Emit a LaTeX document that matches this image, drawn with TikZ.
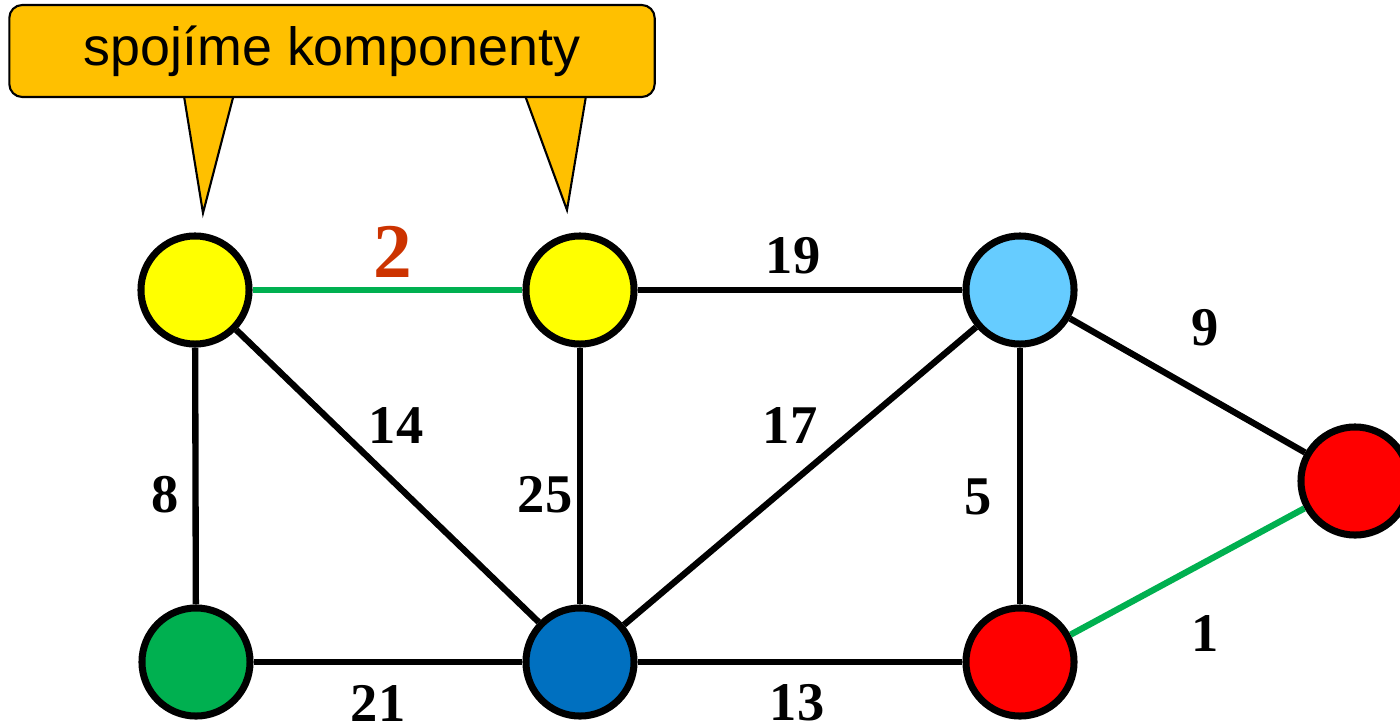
\documentclass[tikz,border=0pt]{standalone}
\usepackage{fontspec}
\setmainfont{Liberation Serif}
\newfontfamily\calloutfont{Liberation Sans}
\usepackage{tikz}
\usetikzlibrary{positioning, calc}
\usepackage{xcolor}
\definecolor{callout}{HTML}{FFC000}
\definecolor{ylw}{HTML}{FFFF00}
\definecolor{ltblue}{HTML}{66CCFF}
\definecolor{dkblue}{HTML}{0070C0}
\definecolor{grn}{HTML}{00B050}
\definecolor{rd}{HTML}{FF0000}
\definecolor{rust}{HTML}{CC3300}

\begin{document}
\begin{tikzpicture}[x=0.01cm, y=-0.01cm,
        vertex/.style={circle, draw=black, line width=2pt, minimum size=1.08cm, inner sep=0pt},
        edge/.style={line width=1.8pt, black},
        tree/.style={line width=1.8pt, grn},
        weight/.style={font=\fontsize{15.5}{17}\selectfont\bfseries, text=black}]
        \useasboundingbox (0,0) rectangle (1400,724);
        % callout with two pointers
        \coordinate (tipL) at (203,213);
        \coordinate (tipR) at (567,210);
        \filldraw[fill=callout, draw=black, line width=0.6pt] (183,90) -- (tipL) -- (235,90) -- cycle;
        \filldraw[fill=callout, draw=black, line width=0.6pt] (523,90) -- (tipR) -- (587,90) -- cycle;
        \node[draw=black, line width=0.6pt, fill=callout, rounded corners=0.13cm, minimum width=6.45cm, minimum height=0.92cm, font=\calloutfont\fontsize{15.3}{18}\selectfont] (note) at (332,51) {spojíme komponenty};
        % vertices
        \node[vertex, fill=ylw] (a) at (195,290) {};
        \node[vertex, fill=ylw] (b) at (580,290) {};
        \node[vertex, fill=ltblue] (c) at (1020,290) {};
        \node[vertex, fill=rd] (d) at (1355,481) {};
        \node[vertex, fill=grn] (e) at (196,662) {};
        \node[vertex, fill=dkblue] (f) at (580,662) {};
        \node[vertex, fill=rd] (g) at (1020,662) {};
        % edges
        \draw[tree] (a) -- (b);
        \draw[tree] (g) -- (d);
        \draw[edge] (b) -- (c);
        \draw[edge] (c) -- (d);
        \draw[edge] (a) -- (e);
        \draw[edge] (a) -- (f);
        \draw[edge] (b) -- (f);
        \draw[edge] (f) -- (c);
        \draw[edge] (c) -- (g);
        \draw[edge] (e) -- (f);
        \draw[edge] (f) -- (g);
        % weights
        \node[weight, text=rust, font=\fontsize{22}{24}\selectfont\bfseries] (w2) at (393,252) {2};
        \node[weight] (w19) at (793,256) {19};
        \node[weight] (w9) at (1205,328) {9};
        \node[weight] (w14) at (396,425) {14};
        \node[weight] (w17) at (790,425) {17};
        \node[weight] (w25) at (545,495) {25};
        \node[weight] (w8) at (165,495) {8};
        \node[weight] (w5) at (978,497) {5};
        \node[weight] (w1) at (1205,633) {1};
        \node[weight] (w21) at (378,703) {21};
        \node[weight] (w13) at (797,703) {13};
    \end{tikzpicture}
\end{document}
